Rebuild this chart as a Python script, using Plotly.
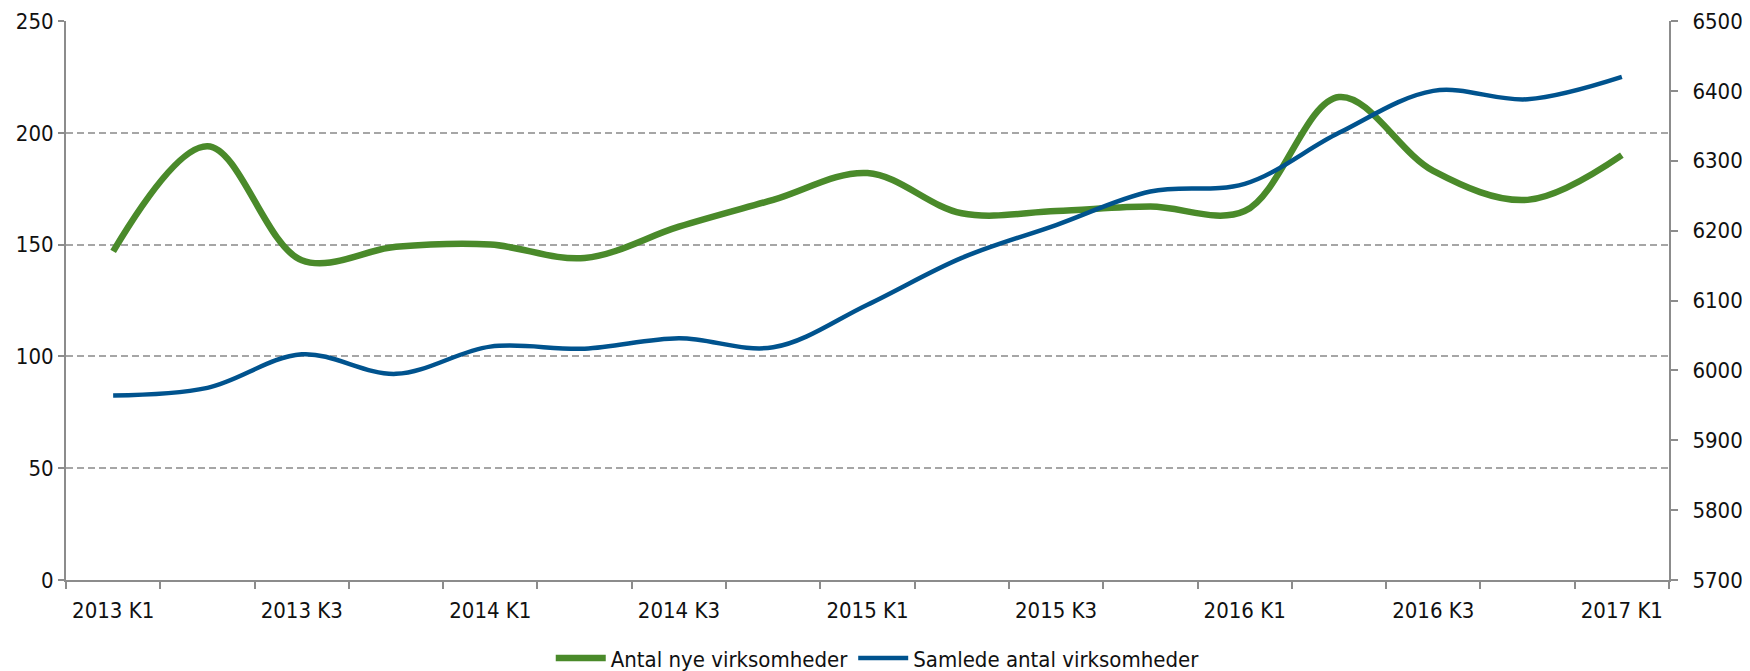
import plotly.graph_objects as go

quarters = ["2013 K1", "2013 K2", "2013 K3", "2013 K4",
            "2014 K1", "2014 K2", "2014 K3", "2014 K4",
            "2015 K1", "2015 K2", "2015 K3", "2015 K4",
            "2016 K1", "2016 K2", "2016 K3", "2016 K4",
            "2017 K1"]
tick_labels = [q if i % 2 == 0 else "" for i, q in enumerate(quarters)]

nye = [147, 194, 143, 149, 150, 144, 158, 170, 182, 164, 165, 167, 165, 216, 183, 170, 190]
samlede = [5964, 5975, 6023, 5995, 6034, 6031, 6046, 6033, 6094, 6161, 6208, 6256, 6267, 6340, 6400, 6388, 6420]

FONT = "DejaVu Sans Condensed, DejaVu Sans, sans-serif"
FSIZE = 22
GREEN = "#4a8a2a"
BLUE = "#00538e"
AXIS = "#8c8c8c"

fig = go.Figure()
fig.add_trace(go.Scatter(x=quarters, y=nye, name="Antal nye virksomheder",
                         mode="lines", line=dict(color=GREEN, width=6.5, shape="spline", smoothing=1),
                         yaxis="y"))
fig.add_trace(go.Scatter(x=quarters, y=samlede, name="Samlede antal virksomheder",
                         mode="lines", line=dict(color=BLUE, width=4.5, shape="spline", smoothing=1),
                         yaxis="y2"))

fig.update_layout(
    width=1750, height=671,
    margin=dict(l=58, r=89, t=13, b=99, autoexpand=False),
    paper_bgcolor="white", plot_bgcolor="white",
    font=dict(family=FONT, size=FSIZE, color="#111111"),
    showlegend=True,
    legend=dict(orientation="h", x=0.497, xref="container", xanchor="center",
                y=0.031, yref="container", yanchor="middle",
                font=dict(family=FONT, size=FSIZE), itemwidth=50, traceorder="normal"),
    xaxis=dict(type="category", tickvals=quarters, ticktext=tick_labels, tickangle=0,
               tickson="boundaries", ticks="outside", ticklen=7, tickcolor=AXIS, tickwidth=1.5,
               showline=True, linecolor=AXIS, linewidth=2, showgrid=False, zeroline=False,
               ticklabelstandoff=10, range=[-0.5, 16.5], ticklabeloverflow="allow"),
    yaxis=dict(range=[0, 250], dtick=50, tick0=0, ticks="outside", ticklen=6, tickcolor=AXIS, tickwidth=1.5,
               showline=True, linecolor=AXIS, linewidth=2, showgrid=True,
               gridcolor="#a6a6a6", griddash="7px,4px", gridwidth=1.5, zeroline=False,
               ticklabeloverflow="allow"),
    yaxis2=dict(range=[5700, 6500], dtick=100, tick0=5700, overlaying="y", side="right",
                ticks="outside", ticklen=7, tickcolor=AXIS, tickwidth=1.5,
                showline=True, linecolor=AXIS, linewidth=2, showgrid=False, zeroline=False,
                ticklabelstandoff=10, ticklabeloverflow="allow"),
)

fig.write_html("out.html")
